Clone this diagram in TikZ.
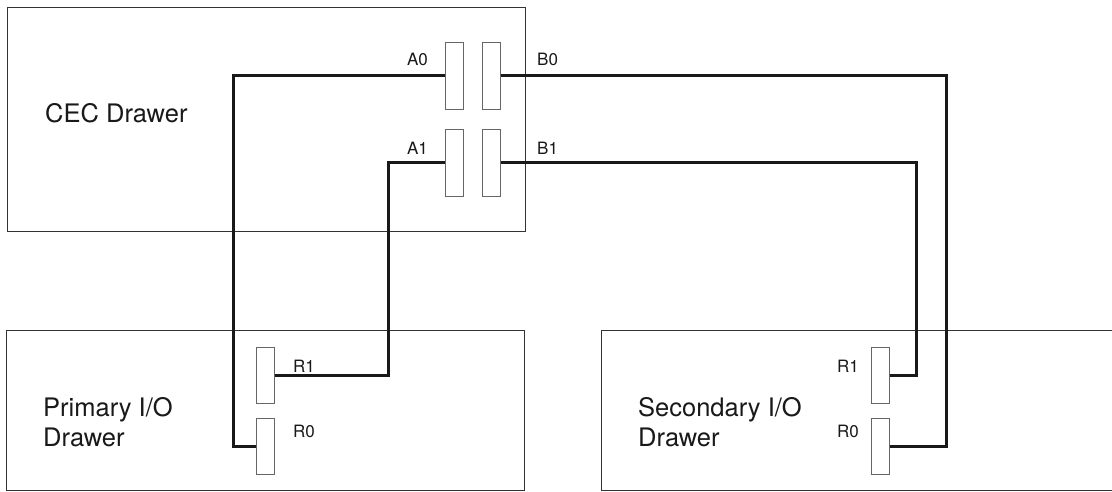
\documentclass[tikz,border=0pt]{standalone}
\usepackage{fontspec}
\setsansfont{TeX Gyre Heros}
\usepackage{tikz}
\usetikzlibrary{positioning, calc}
\tikzset{
  drawerbox/.style={
    draw=black!80, line width=1.2pt, fill=white,
    inner sep=0pt, anchor=north west
  },
  drawerlabel/.style={
    font=\sffamily\fontsize{25.5}{30}\selectfont, align=left,
    inner sep=0pt, text=black!90
  },
  portbox/.style={
    draw=black!60, line width=1pt, fill=white, inner sep=0pt,
    minimum width=18pt, minimum height=67pt
  },
  ioportbox/.style={
    portbox, minimum height=56pt
  },
  portlabel/.style={
    font=\sffamily\fontsize{17}{20}\selectfont, inner sep=0pt, text=black!90
  },
  cable/.style={line width=3pt, color=black!90}
}

\begin{document}
\begin{tikzpicture}[x=1pt, y=-1pt, node distance=19pt and 18pt]
  \clip (0,0) rectangle (1112,491);

  % drawers
  \node[drawerbox, minimum width=518pt, minimum height=224pt] (cec) at (7,7) {};
  \node[drawerbox, minimum width=518pt, minimum height=160pt] (primary) at (6,330) {};
  \node[drawerbox, minimum width=600pt, minimum height=160pt] (secondary) at (601,330) {};

  \node[drawerlabel, anchor=base west] (ceclabel) at (45,122) {CEC Drawer};
  \node[drawerlabel, anchor=west] (primarylabel) at (43,422) {Primary I/O\\Drawer};
  \node[drawerlabel, anchor=west] (secondarylabel) at (638,422) {Secondary I/O\\Drawer};

  % CEC ports
  \node[portbox] (a0) at (454,75.5) {};
  \node[portbox, right=of a0] (b0) {};
  \node[portbox, below=of a0] (a1) {};
  \node[portbox, right=of a1] (b1) {};

  % I/O ports
  \node[ioportbox] (pr1) at (265,375) {};
  \node[ioportbox, below=14pt of pr1] (pr0) {};
  \node[ioportbox] (sr1) at (880,375) {};
  \node[ioportbox, below=14pt of sr1] (sr0) {};

  \node[portlabel, anchor=base east] (a0lbl) at (428,65) {A0};
  \node[portlabel, anchor=base east] (a1lbl) at (428,154) {A1};
  \node[portlabel, anchor=base west] (b0lbl) at (537,65) {B0};
  \node[portlabel, anchor=base west] (b1lbl) at (537,154) {B1};
  \node[portlabel, anchor=base west] (pr1lbl) at (293,372) {R1};
  \node[portlabel, anchor=base west] (pr0lbl) at (293,437) {R0};
  \node[portlabel, anchor=base east] (sr1lbl) at (859,372) {R1};
  \node[portlabel, anchor=base east] (sr0lbl) at (859,437) {R0};

  % cables
  \draw[cable] (a0.west) -- ++(-211,0) |- (pr0.west);
  \draw[cable] (a1.west) -- ++(-56,0) |- (pr1.east);
  \draw[cable] (b0.east) -- ++(446,0) |- (sr0.east);
  \draw[cable] (b1.east) -- ++(416,0) |- (sr1.east);
\end{tikzpicture}
\end{document}
